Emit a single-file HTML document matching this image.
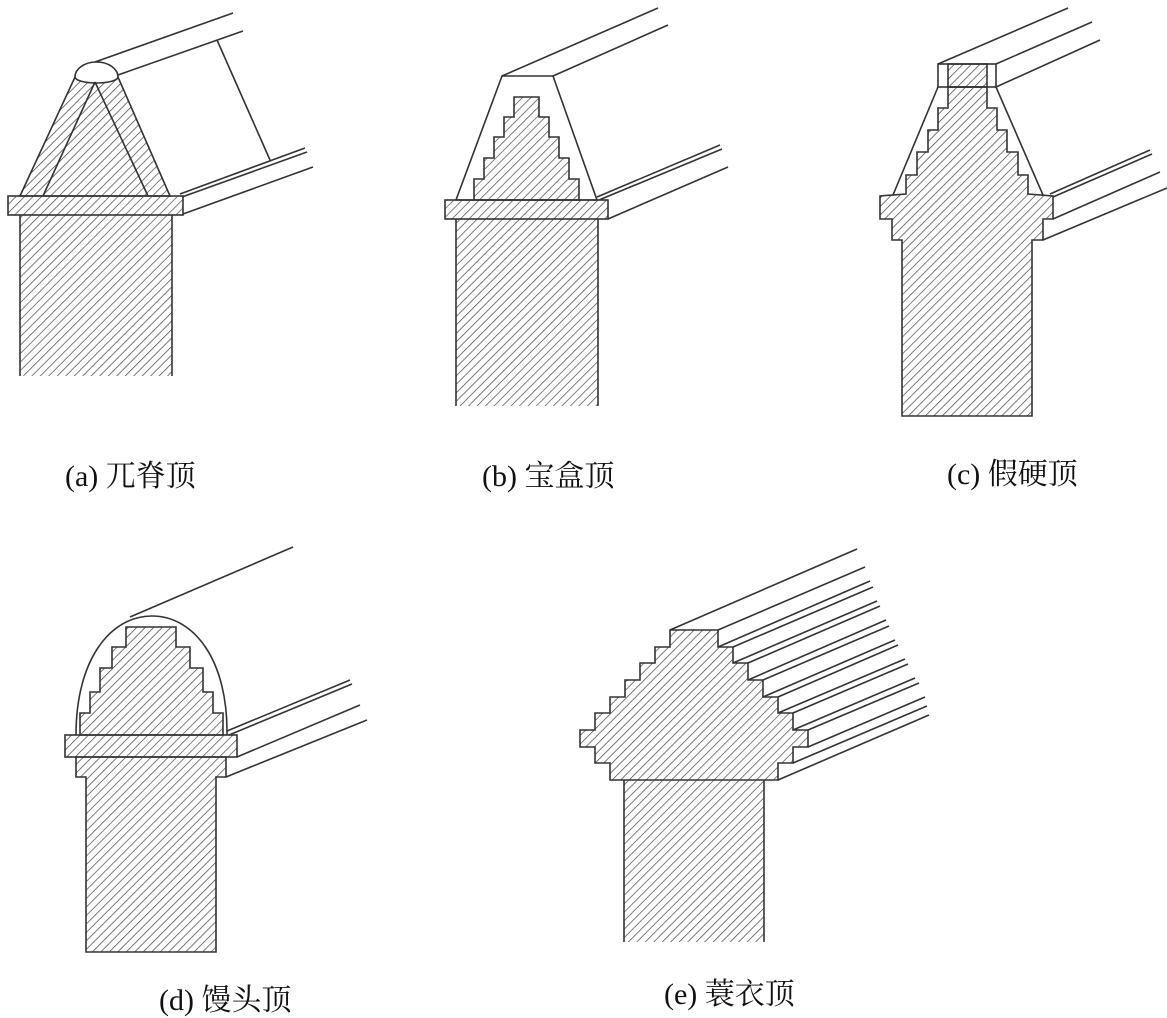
<!DOCTYPE html>
<html><head><meta charset="utf-8"><style>
html,body{margin:0;padding:0;background:#fff;}
svg{display:block;}
text{font-family:"Liberation Serif","Noto Serif CJK SC",serif;font-size:30px;fill:#111;}
</style></head><body>
<svg width="1167" height="1018" viewBox="0 0 1167 1018" xmlns="http://www.w3.org/2000/svg">
<defs>
<pattern id="h" width="6" height="6" patternUnits="userSpaceOnUse" patternTransform="rotate(45)">
<line x1="0" y1="0" x2="0" y2="6" stroke="#444" stroke-width="1.4"/>
</pattern>
</defs>
<g stroke="#333" stroke-width="1.6" fill="none">
<!-- (a) -->
<g>
<line x1="95" y1="62" x2="233" y2="13"/>
<line x1="118" y1="75" x2="243" y2="31"/>
<line x1="217" y1="40" x2="270" y2="160"/>
<line x1="180" y1="194" x2="305" y2="148"/>
<line x1="182" y1="197" x2="307" y2="152"/>
<line x1="183" y1="214" x2="313" y2="167"/>
<rect x="20" y="215" width="152" height="161" fill="url(#h)" stroke="none"/>
<line x1="20" y1="215" x2="20" y2="376"/><line x1="172" y1="215" x2="172" y2="376"/>
<polygon points="75,77 118,77 170,196 20,196" fill="url(#h)"/>
<path d="M75,77 A21.5,15 0 0 1 118,77 A21.5,6 0 0 1 75,77" fill="#fff"/>
<line x1="95" y1="82" x2="43" y2="196"/><line x1="95" y1="82" x2="148" y2="196"/>
<rect x="8" y="196" width="175" height="19" fill="url(#h)"/>
</g>
<!-- (b) -->
<g>
<line x1="502" y1="76" x2="658" y2="8"/>
<line x1="553" y1="76" x2="668" y2="25"/>
<line x1="597" y1="197" x2="720" y2="145"/>
<line x1="599" y1="200" x2="722" y2="149"/>
<line x1="608" y1="219" x2="728" y2="167"/>
<rect x="456" y="219" width="142" height="187" fill="url(#h)" stroke="none"/>
<line x1="456" y1="219" x2="456" y2="406"/><line x1="598" y1="219" x2="598" y2="406"/>
<polygon points="502,76 553,76 597,200 456,200"/>
<polygon points="514,97 539,97 539,117 549,117 549,137 559,137 559,158 569,158 569,179 579,179 579,200 474,200 474,179 484,179 484,158 494,158 494,137 504,137 504,117 514,117" fill="url(#h)"/>
<rect x="445" y="200" width="163" height="19" fill="url(#h)"/>
</g>
<!-- (c) -->
<g>
<line x1="938" y1="64" x2="1068" y2="8"/>
<line x1="996" y1="64" x2="1092" y2="22"/>
<line x1="996" y1="87" x2="1100" y2="40"/>
<line x1="1050" y1="194" x2="1150" y2="150"/>
<line x1="1053" y1="197" x2="1152" y2="154"/>
<line x1="1053" y1="219" x2="1160" y2="172"/>
<line x1="1043" y1="240" x2="1167" y2="188"/>
<rect x="938" y="64" width="58" height="23"/>
<rect x="948" y="64" width="39" height="23" fill="url(#h)"/>
<line x1="938" y1="87" x2="893" y2="195"/><line x1="996" y1="87" x2="1043" y2="195"/>
<polygon points="948,87 987,87 987,108 997,108 997,130 1007,130 1007,152 1018,152 1018,175 1028,175 1028,194 1053,196 1053,219 1043,219 1043,240 1032,240 1032,416 902,416 902,240 892,240 892,219 880,219 880,196 906,194 906,175 917,175 917,152 928,152 928,130 938,130 938,108 948,108" fill="url(#h)"/>
</g>
<!-- (d) -->
<g>
<line x1="130" y1="617" x2="293" y2="547"/>
<line x1="227" y1="731" x2="350" y2="680"/>
<line x1="229" y1="735" x2="352" y2="684"/>
<line x1="237" y1="757" x2="360" y2="705"/>
<line x1="226" y1="777" x2="367" y2="720"/>
<path d="M76,735 C76,660 110,616 152,616 C194,616 228,660 227,735"/>
<polygon points="126,627 176,627 176,647 190,647 190,668 203,668 203,692 213,692 213,713 223,713 223,735 80,735 80,713 90,713 90,692 100,692 100,668 112,668 112,647 126,647" fill="url(#h)"/>
<rect x="65" y="735" width="172" height="22" fill="url(#h)"/>
<polygon points="76,757 226,757 226,777 216,777 216,952 86,952 86,777 76,777" fill="url(#h)"/>
</g>
<!-- (e) -->
<g>
<line x1="670" y1="630" x2="857" y2="549"/>
<line x1="718" y1="630" x2="865" y2="567"/>
<line x1="718" y1="647" x2="870" y2="581"/>
<line x1="733" y1="647" x2="873" y2="587"/>
<line x1="733" y1="663" x2="877" y2="601"/>
<line x1="748" y1="663" x2="880" y2="606"/>
<line x1="748" y1="680" x2="886" y2="620"/>
<line x1="763" y1="680" x2="889" y2="626"/>
<line x1="763" y1="697" x2="895" y2="640"/>
<line x1="778" y1="697" x2="898" y2="645"/>
<line x1="778" y1="713" x2="905" y2="659"/>
<line x1="793" y1="713" x2="908" y2="664"/>
<line x1="793" y1="730" x2="915" y2="678"/>
<line x1="808" y1="730" x2="919" y2="683"/>
<line x1="808" y1="747" x2="925" y2="697"/>
<line x1="793" y1="763" x2="927" y2="706"/>
<line x1="778" y1="780" x2="929" y2="715"/>
<polygon points="670,630 718,630 718,647 733,647 733,663 748,663 748,680 763,680 763,697 778,697 778,713 793,713 793,730 808,730 808,747 793,747 793,763 778,763 778,780 610,780 610,763 595,763 595,747 580,747 580,730 595,730 595,713 610,713 610,697 625,697 625,680 640,680 640,663 655,663 655,647 670,647" fill="url(#h)"/>
<rect x="624" y="780" width="140" height="162" fill="url(#h)" stroke="none"/>
<line x1="624" y1="780" x2="624" y2="942"/><line x1="764" y1="780" x2="764" y2="942"/>
</g>
</g>
<text x="65" y="486">(a) 兀脊顶</text>
<text x="482" y="486">(b) 宝盒顶</text>
<text x="947" y="484">(c) 假硬顶</text>
<text x="159" y="1010">(d) 馒头顶</text>
<text x="664" y="1004">(e) 蓑衣顶</text>
</svg>
</body></html>
